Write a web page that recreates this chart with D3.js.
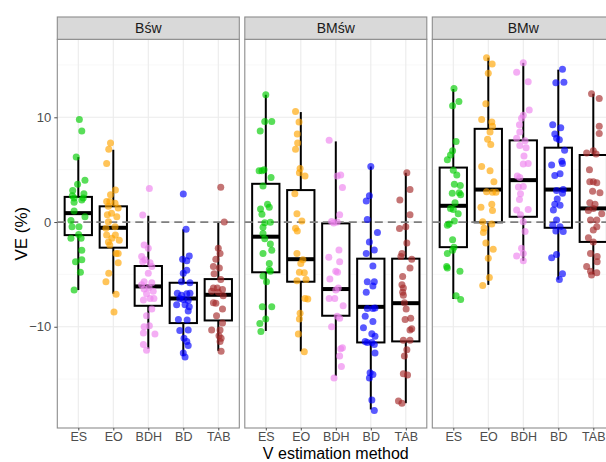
<!DOCTYPE html>
<html>
<head>
<meta charset="utf-8">
<script src="https://cdn.jsdelivr.net/npm/d3@7"></script>
<style>
  body { margin: 0; background: #fff; }
  svg { display: block; font-family: "Liberation Sans", Arial, sans-serif; }
</style>
</head>
<body>
<svg id="root"></svg>
<script>
const facets = ["Bśw", "BMśw", "BMw"];
const methods = ["ES", "EO", "BDH", "BD", "TAB"];
const colors = ["#00CD00", "#FFA500", "#EE82EE", "#0000FF", "#A52A2A"];
const yTicks = [-10, 0, 10];
const yMinor = [-15, -5, 5, 15];

// box stats per method: [lower whisker, q1, median, q3, upper whisker]
const boxBsw  = [[-6.5, -1.25, 0.85, 2.4, 6.2], [-6.85, -2.45, -0.55, 1.5, 6.9], [-12.1, -8.0, -6.15, -4.2, 0.6], [-12.8, -9.65, -7.3, -5.8, -0.7], [-12.3, -9.4, -6.95, -5.45, 0.0]];
const boxBMsw = [[-10.4, -4.8, -1.4, 3.65, 12.15], [-12.35, -5.7, -3.55, 3.05, 10.5], [-14.7, -8.95, -6.4, -0.13, 7.7], [-17.9, -11.5, -8.1, -3.5, 5.3], [-17.3, -11.4, -7.75, -3.5, 4.7]];
const boxBMw  = [[-7.35, -2.4, 1.55, 5.2, 12.7], [-6.0, -0.03, 3.1, 8.9, 15.7], [-3.7, 0.5, 4.0, 7.8, 15.2], [-5.5, -0.55, 3.1, 7.1, 14.55], [-5.0, -1.9, 1.3, 6.4, 12.25]];

// jittered points: [jitter (category units), VE %]
const bswES = [[0.03,9.8],[0.1,8.7],[-0.06,6.2],[0.19,4.0],[-0.02,3.6],[-0.16,3.0],[0.16,2.7],[-0.17,2.5],[-0.12,2.3],[0.14,2.3],[0.1,2.1],[-0.12,1.9],[-0.12,1.05],[0.19,0.5],[-0.21,0.15],[-0.18,-0.45],[0.02,-0.45],[0.01,-1.2],[-0.21,-1.55],[0.08,-1.55],[0.1,-2.7],[-0.08,-3.8],[0.1,-3.6],[0.06,-4.8],[-0.12,-6.5]];
const bswEO = [[-0.08,7.55],[-0.13,6.95],[-0.19,5.6],[0.06,3.05],[-0.08,2.6],[-0.19,1.95],[-0.1,1.95],[0.05,1.8],[-0.14,1.5],[0.14,1.35],[-0.05,0.85],[-0.17,0.7],[0.1,0.5],[-0.14,0.03],[-0.21,-0.6],[0.05,-0.45],[-0.19,-1.24],[0.06,-1.24],[-0.04,-1.55],[-0.14,-1.9],[0.17,-1.75],[-0.1,-2.2],[0.08,-3.0],[0.14,-3.0],[0.14,-3.9],[-0.13,-4.9],[-0.21,-5.7],[0.08,-6.9],[0.02,-8.6]];
const bswBDH = [[0.03,3.2],[-0.16,0.67],[-0.12,-2.2],[0,-2.5],[-0.19,-3.3],[-0.1,-3.6],[0.05,-3.9],[-0.16,-3.8],[0.1,-4.25],[0,-4.9],[-0.12,-5.7],[0.1,-5.8],[-0.19,-6.0],[0.02,-6.25],[-0.12,-6.4],[0.14,-6.6],[-0.05,-6.85],[0.05,-7.3],[-0.14,-7.45],[0.16,-7.3],[0.1,-8.3],[-0.05,-8.95],[0.03,-9.9],[-0.12,-10.0],[0.19,-10.7],[-0.14,-10.6],[-0.14,-11.7],[-0.05,-12.25]];
const bswBD = [[0,2.67],[0.08,-0.7],[0.17,-3.25],[-0.02,-3.55],[0.1,-3.7],[0,-4.9],[0.1,-4.6],[-0.05,-5.7],[0.19,-5.8],[-0.17,-6.8],[-0.05,-7.0],[0.1,-6.85],[0.19,-6.8],[-0.1,-7.3],[0,-7.4],[0.14,-7.5],[-0.19,-7.9],[0.05,-7.9],[0.17,-8.1],[0.14,-8.5],[-0.14,-9.3],[0.11,-9.35],[-0.1,-10.35],[0.14,-10.3],[0.02,-11.1],[0.1,-11.4],[0.14,-11.8],[0,-12.5],[0.05,-12.9]];
const bswTAB = [[0.07,3.33],[0.17,0.0],[0,-2.5],[0.05,-3.0],[-0.07,-3.55],[-0.14,-4.25],[0.03,-4.4],[-0.12,-4.95],[0.07,-5.5],[-0.14,-6.3],[-0.03,-6.3],[0.12,-6.45],[-0.19,-6.6],[0,-6.7],[0.14,-7.05],[-0.14,-7.7],[-0.07,-7.75],[0.12,-8.3],[-0.05,-8.95],[0.12,-9.65],[-0.19,-10.3],[0.05,-10.3],[0.02,-10.85],[0.08,-11.1],[0.05,-11.4],[0.08,-12.35]];

const bmswES = [[0,12.15],[-0.03,9.6],[0.17,9.6],[-0.16,8.7],[-0.19,4.9],[-0.11,4.9],[-0.05,5.0],[0.15,4.25],[-0.08,3.45],[0.05,1.7],[0.1,1.4],[-0.15,1.25],[-0.11,0.75],[0.13,-0.03],[-0.03,-0.06],[-0.08,-0.5],[-0.08,-1.1],[-0.03,-1.6],[0.13,-2.1],[-0.08,-3.0],[0.17,-2.7],[0.1,-3.95],[0.1,-4.55],[0.13,-4.7],[-0.08,-5.15],[0.02,-5.7],[-0.1,-8.1],[0.17,-8.1],[0,-9.25],[-0.17,-9.7],[-0.14,-10.45]];
const bmswEO = [[-0.15,10.55],[-0.05,9.55],[-0.1,8.4],[-0.09,7.55],[-0.15,6.95],[-0.02,5.1],[-0.04,4.7],[0.12,4.4],[-0.17,2.7],[-0.11,0.8],[0.03,0.1],[-0.15,-0.6],[-0.1,-0.85],[-0.11,-3.0],[0.06,-3.6],[0,-3.95],[-0.04,-4.8],[0.1,-4.85],[0.15,-5.5],[-0.11,-5.6],[0.12,-7.3],[0.2,-7.35],[-0.02,-8.7],[-0.04,-9.25],[-0.07,-10.7],[0.1,-12.4]];
const bmswBDH = [[-0.19,7.8],[0.14,4.5],[0.04,4.4],[0.19,3.3],[0.11,0.7],[-0.12,0.06],[-0.06,-0.1],[0.04,0.0],[-0.2,-3.36],[0.09,-2.67],[0.11,-3.8],[0,-4.7],[0.05,-4.8],[-0.17,-5.45],[0,-6.5],[0.07,-6.3],[-0.19,-7.3],[-0.03,-7.3],[0.21,-8.0],[0.04,-9.0],[0.11,-9.2],[-0.12,-10.0],[0.14,-12.1],[0.19,-12.0],[0.11,-12.8],[0.16,-13.8],[-0.05,-14.9]];
const bmswBD = [[0,5.3],[-0.04,2.5],[-0.13,2.0],[-0.1,0.25],[0.19,-1.0],[-0.04,-1.9],[0.1,-2.67],[-0.13,-3.0],[0.06,-4.2],[-0.1,-5.7],[0.1,-5.7],[0.06,-6.1],[-0.13,-6.7],[0.12,-8.2],[0.06,-8.25],[-0.1,-8.25],[-0.16,-9.0],[0.06,-9.5],[-0.21,-10.1],[0.03,-10.67],[0.12,-10.9],[-0.16,-11.4],[-0.1,-11.5],[0.03,-11.5],[0.1,-11.7],[0.12,-12.5],[-0.02,-14.4],[0.06,-14.55],[-0.04,-14.9],[0.03,-17.0],[0.1,-18.0]];
const bmswTAB = [[0.03,4.7],[0.12,3.1],[-0.17,2.1],[0.12,0.7],[-0.18,-0.63],[0,-0.45],[0.03,-2.0],[-0.11,-3.0],[-0.14,-3.3],[0.17,-3.55],[0.12,-4.4],[-0.09,-5.2],[-0.11,-6.0],[-0.07,-6.3],[-0.09,-6.7],[-0.07,-7.0],[-0.04,-7.7],[0.01,-8.3],[0.14,-9.2],[-0.02,-9.3],[0.17,-10.2],[0.12,-10.3],[-0.07,-11.3],[0.12,-11.3],[0.03,-12.2],[-0.04,-12.8],[-0.07,-14.5],[0.05,-14.6],[-0.21,-17.1],[-0.11,-17.3]];

const bmwES = [[0.02,12.75],[0.16,11.5],[-0.02,11.1],[0.08,7.7],[-0.02,6.8],[-0.08,6.4],[-0.17,5.95],[0,4.95],[0.1,4.5],[0.03,3.6],[0.2,3.5],[0.17,2.8],[-0.03,2.75],[0.21,2.6],[0.05,1.85],[-0.08,1.3],[0,1.2],[0.14,0.8],[0.03,0.1],[-0.12,-0.2],[-0.17,-0.3],[-0.02,-1.7],[0.02,-2.4],[-0.02,-2.7],[-0.17,-3.0],[-0.19,-4.25],[-0.17,-4.4],[0.19,-4.7],[0.08,-7.05],[0.21,-7.4]];
const bmwEO = [[-0.05,15.7],[0.11,15.1],[0,14.2],[-0.07,11.3],[-0.19,9.8],[0.1,9.55],[0.12,9.15],[0.05,8.6],[-0.02,7.9],[0.07,7.4],[-0.19,5.3],[0.05,4.9],[0.16,3.85],[-0.05,2.9],[0.12,2.85],[0.22,2.85],[0.1,1.7],[-0.21,1.4],[0.12,1.1],[-0.16,0.03],[-0.12,-0.6],[-0.14,-1.0],[0.1,-0.2],[-0.07,-2.0],[0.14,-2.6],[0,-3.45],[0.03,-5.3],[-0.16,-6.05]];
const bmwBDH = [[0,15.2],[-0.19,14.3],[0.14,13.4],[0.17,10.7],[0,10.2],[-0.05,9.9],[-0.11,9.3],[-0.1,8.6],[-0.19,8.0],[0.05,7.75],[-0.1,7.3],[0.08,7.1],[0.02,6.3],[0.14,5.6],[0,5.55],[-0.17,4.4],[-0.1,4.25],[0,3.4],[-0.14,3.35],[-0.08,2.7],[-0.11,2.15],[-0.19,1.15],[0.14,1.2],[-0.08,0.7],[0,0.03],[0.05,-0.9],[-0.05,-2.5],[0,-3.0],[-0.19,-3.25],[0,-3.7]];
const bmwBD = [[0.12,14.6],[-0.07,13.3],[0.16,13.35],[-0.16,9.3],[0.07,9.0],[-0.1,8.4],[-0.05,8.0],[0.03,7.85],[0.18,6.85],[0.1,5.8],[-0.19,5.45],[0.12,5.6],[0.05,4.6],[-0.1,4.45],[-0.05,3.0],[0.14,3.1],[0.12,2.75],[-0.03,2.2],[-0.1,1.7],[0.05,1.6],[-0.14,1.15],[-0.05,0.2],[-0.16,-0.3],[0.05,-0.45],[0.14,-0.9],[-0.07,-0.85],[-0.19,-3.4],[-0.05,-3.1],[0.12,-4.95],[0.03,-5.5]];
const bmwTAB = [[-0.05,12.25],[0.17,11.8],[0.17,9.15],[0.17,8.45],[0,6.8],[-0.19,6.6],[0.08,6.5],[-0.11,5.0],[0,3.85],[-0.1,3.85],[0.1,3.75],[-0.02,2.95],[0.19,2.8],[-0.1,1.85],[0.05,1.7],[0,1.3],[-0.14,1.1],[0.24,0.8],[-0.08,0.2],[0.1,0.2],[0,-0.76],[-0.14,-1.5],[0.1,-0.45],[0,-1.9],[-0.08,-3.0],[0.11,-3.3],[0.11,-3.8],[-0.19,-4.25],[-0.08,-4.7],[0.1,-4.85],[-0.05,-5.05]];

const boxes = [boxBsw, boxBMsw, boxBMw];
const points = [
  [bswES, bswEO, bswBDH, bswBD, bswTAB],
  [bmswES, bmswEO, bmswBDH, bmswBD, bmswTAB],
  [bmwES, bmwEO, bmwBDH, bmwBD, bmwTAB]
];

const W = 606, H = 462;
const panelW = 182, panelStep = 187.5, panelLeft = 57.3;
const stripTop = 17, stripH = 22.3;
const panelTop = stripTop + stripH, panelBottom = 428;

const svg = d3.select('#root').attr('width', W).attr('height', H);

const y = d3.scaleLinear().domain([-19.67, 17.45]).range([panelBottom, panelTop]);
const x = d3.scalePoint().domain(methods).range([0, panelW]).padding(0.6);
const band = x.step();
const boxW = band * 0.78;

facets.forEach((f, fi) => {
  const g = svg.append('g').attr('transform', `translate(${panelLeft + fi * panelStep},0)`);

  // grid
  g.selectAll('.minor').data(yMinor).enter().append('line')
    .attr('x1', 0).attr('x2', panelW)
    .attr('y1', d => y(d)).attr('y2', d => y(d))
    .attr('stroke', '#F3F3F3').attr('stroke-width', 0.6);
  g.selectAll('.major').data(yTicks).enter().append('line')
    .attr('x1', 0).attr('x2', panelW)
    .attr('y1', d => y(d)).attr('y2', d => y(d))
    .attr('stroke', '#EBEBEB').attr('stroke-width', 1.1);
  g.selectAll('.vgrid').data(methods).enter().append('line')
    .attr('x1', d => x(d)).attr('x2', d => x(d))
    .attr('y1', panelTop).attr('y2', panelBottom)
    .attr('stroke', '#EBEBEB').attr('stroke-width', 1.1);

  // boxplots
  const bx = g.selectAll('.box').data(boxes[fi]).enter().append('g')
    .attr('transform', (d, i) => `translate(${x(methods[i])},0)`);
  bx.append('line').attr('x1', 0).attr('x2', 0)
    .attr('y1', d => y(d[0])).attr('y2', d => y(d[4]))
    .attr('stroke', '#000').attr('stroke-width', 2);
  bx.append('rect').attr('x', -boxW / 2).attr('width', boxW)
    .attr('y', d => y(d[3])).attr('height', d => y(d[1]) - y(d[3]))
    .attr('fill', '#fff').attr('stroke', '#000').attr('stroke-width', 2);
  bx.append('line').attr('x1', -boxW / 2).attr('x2', boxW / 2)
    .attr('y1', d => y(d[2])).attr('y2', d => y(d[2]))
    .attr('stroke', '#000').attr('stroke-width', 4);

  // zero reference
  g.append('line').attr('x1', 0).attr('x2', panelW)
    .attr('y1', y(0)).attr('y2', y(0))
    .attr('stroke', '#7F7F7F').attr('stroke-width', 1.8)
    .attr('stroke-dasharray', '8,5');

  // jittered points
  points[fi].forEach((pts, mi) => {
    g.selectAll(null).data(pts).enter().append('circle')
      .attr('cx', d => x(methods[mi]) + d[0] * band)
      .attr('cy', d => y(d[1]))
      .attr('r', 3.5)
      .attr('fill', colors[mi]).attr('fill-opacity', 0.65);
  });

  // panel border
  g.append('rect').attr('x', 0).attr('y', panelTop)
    .attr('width', panelW).attr('height', panelBottom - panelTop)
    .attr('fill', 'none').attr('stroke', '#8C8C8C').attr('stroke-width', 1.1);

  // strip
  g.append('rect').attr('x', 0).attr('y', stripTop)
    .attr('width', panelW).attr('height', stripH)
    .attr('fill', '#D9D9D9').attr('stroke', '#8C8C8C').attr('stroke-width', 1.1);
  g.append('text').attr('x', panelW / 2).attr('y', stripTop + stripH / 2)
    .attr('dy', '0.36em').attr('text-anchor', 'middle')
    .attr('font-size', 14).attr('fill', '#1A1A1A').text(f);

  // x axis
  const ax = g.append('g').attr('transform', `translate(0,${panelBottom})`)
    .call(d3.axisBottom(x).tickSize(2.5).tickPadding(2));
  ax.select('.domain').remove();
  ax.selectAll('line').attr('stroke', '#4D4D4D');
  ax.selectAll('text').attr('font-size', 12.5).attr('fill', '#4D4D4D')
    .attr('font-family', '"Liberation Sans", Arial, sans-serif');
});

// y axis
const ay = svg.append('g').attr('transform', `translate(${panelLeft},0)`)
  .call(d3.axisLeft(y).tickValues(yTicks).tickSize(3).tickPadding(3));
ay.select('.domain').remove();
ay.selectAll('line').attr('stroke', '#4D4D4D');
ay.selectAll('text').attr('font-size', 13).attr('fill', '#4D4D4D')
  .attr('font-family', '"Liberation Sans", Arial, sans-serif');

// titles
svg.append('text').attr('transform', `translate(27,${(panelTop + panelBottom) / 2}) rotate(-90)`)
  .attr('text-anchor', 'middle').attr('font-size', 17).attr('fill', '#000').text('VE (%)');
svg.append('text').attr('x', panelLeft + (2 * panelStep + panelW) / 2).attr('y', 458.6)
  .attr('text-anchor', 'middle').attr('font-size', 16).attr('fill', '#000').text('V estimation method');
</script>
</body>
</html>
